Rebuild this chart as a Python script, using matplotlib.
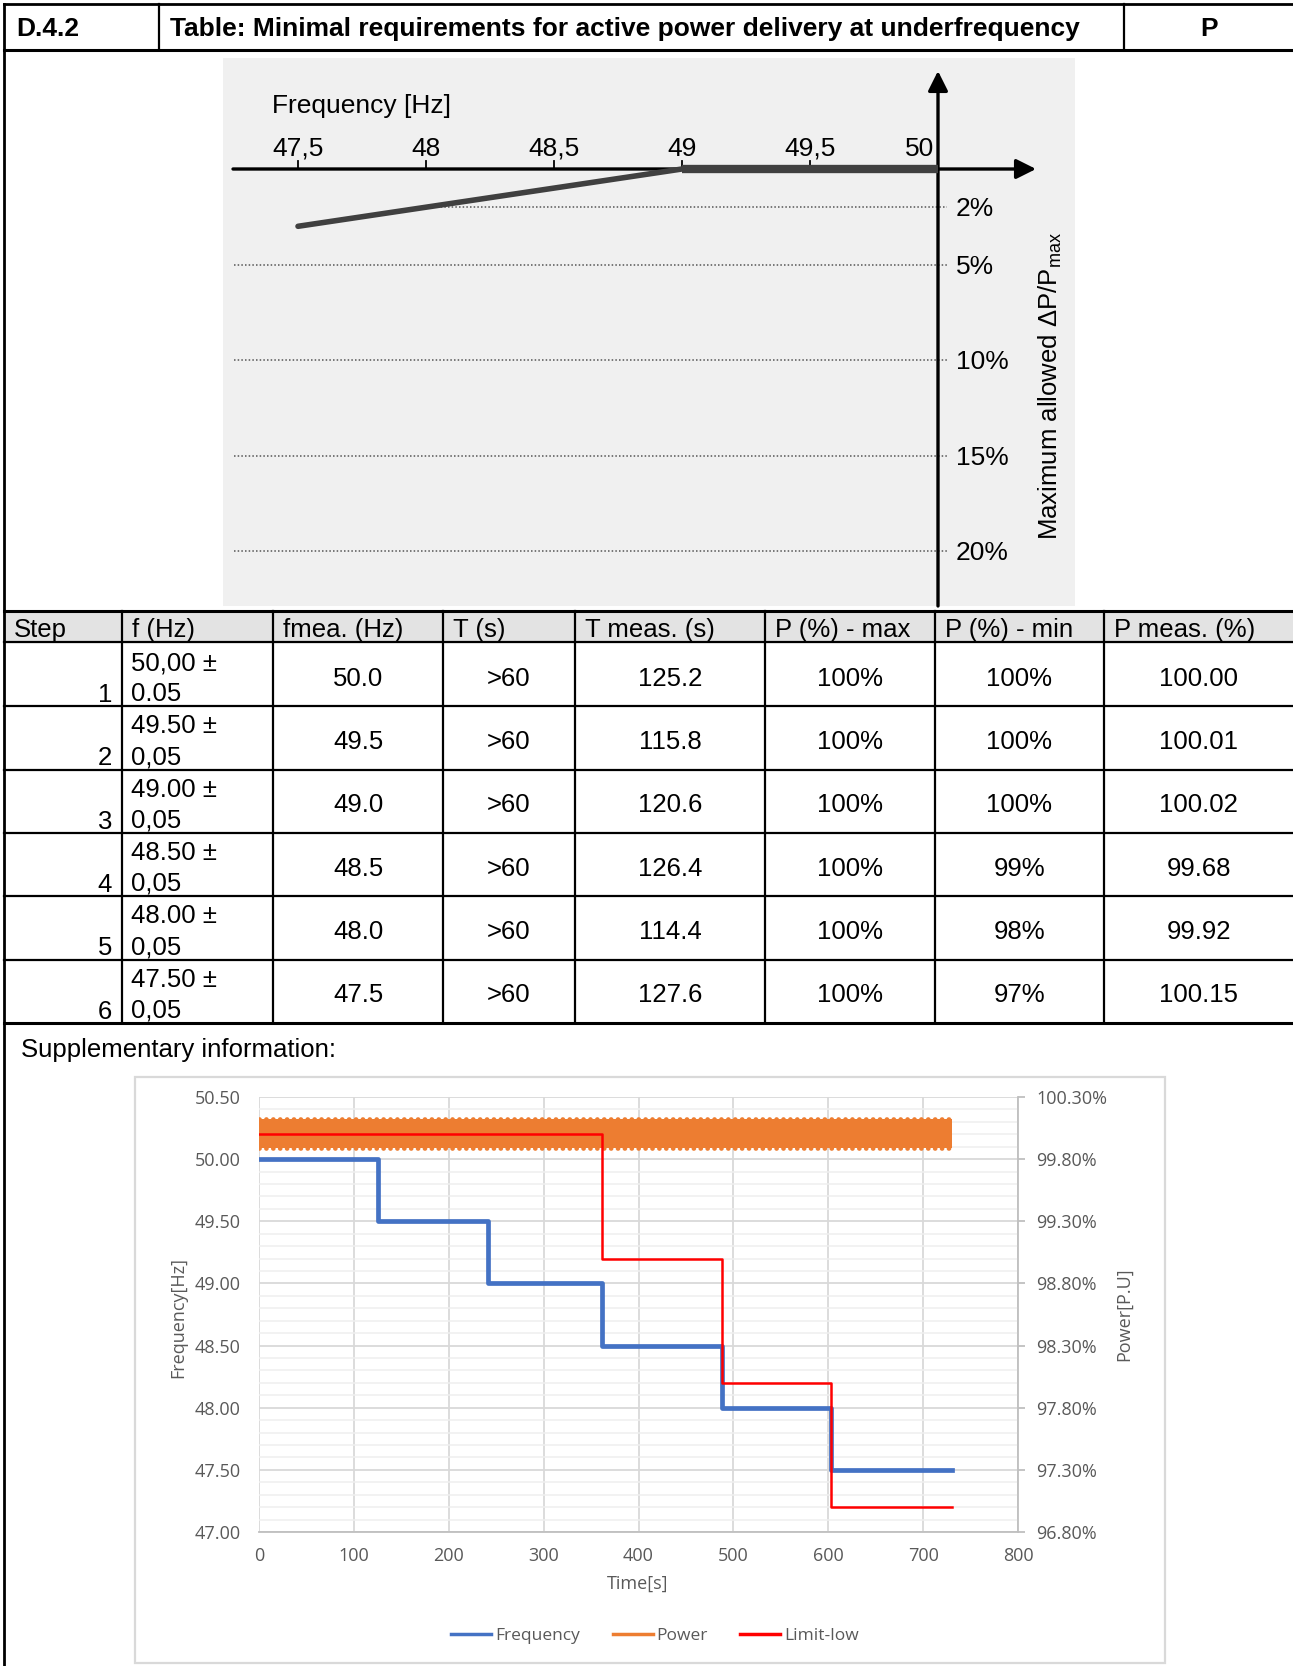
import numpy as np
import matplotlib
matplotlib.use("Agg")
import matplotlib.pyplot as plt
from matplotlib.patches import Rectangle
from matplotlib.ticker import MultipleLocator, FuncFormatter, FixedLocator
from matplotlib.lines import Line2D

W, H = 1293, 1666

# ---------------- table data ----------------
col_heads = ["Step", "f (Hz)", "fmea. (Hz)", "T (s)", "T meas. (s)",
             "P (%) - max", "P (%) - min", "P meas. (%)"]
steps = ["1", "2", "3", "4", "5", "6"]
f_set_top = ["50,00 ±", "49.50 ±", "49.00 ±", "48.50 ±", "48.00 ±", "47.50 ±"]
f_set_bot = ["0.05", "0,05", "0,05", "0,05", "0,05", "0,05"]
f_meas = ["50.0", "49.5", "49.0", "48.5", "48.0", "47.5"]
t_set = [">60", ">60", ">60", ">60", ">60", ">60"]
t_meas = ["125.2", "115.8", "120.6", "126.4", "114.4", "127.6"]
p_max = ["100%", "100%", "100%", "100%", "100%", "100%"]
p_min = ["100%", "100%", "100%", "99%", "98%", "97%"]
p_meas = ["100.00", "100.01", "100.02", "99.68", "99.92", "100.15"]

# ---------------- requirement diagram data ----------------
curve_f = [47.5, 49.0]
curve_dp = [3.0, 0.0]
flat_f = [49.0, 50.0]
flat_dp = [0.0, 0.0]
freq_ticks = [47.5, 48.0, 48.5, 49.0, 49.5, 50.0]
freq_tick_labels = ["47,5", "48", "48,5", "49", "49,5", "50"]
dp_levels = [2, 5, 10, 15, 20]
dp_labels = ["2%", "5%", "10%", "15%", "20%"]
dp_line_start = [48.0, 47.25, 47.25, 47.25, 47.25]

# ---------------- measurement chart data ----------------
step_duration = [125.2, 115.8, 120.6, 126.4, 114.4, 127.6]
freq_levels = [50.00, 49.50, 49.00, 48.50, 48.00, 47.50]
limit_levels = [100.0, 100.0, 100.0, 99.0, 98.0, 97.0]
power_time = [0, 730]
power_upper = [100.12, 100.12]
power_lower = [99.89, 99.89]

fig = plt.figure(figsize=(W / 100, H / 100), dpi=100, facecolor="white")

def box(x0, y0, x1, y1):
    return [x0 / W, 1 - y1 / H, (x1 - x0) / W, (y1 - y0) / H]

# page layer in pixel units
page = fig.add_axes([0, 0, 1, 1])
page.set_xlim(0, W)
page.set_ylim(H, 0)
page.axis("off")

TF = "Liberation Sans"
fs = 18.5

# header row
page.add_patch(Rectangle((4, 611), W - 4, 31, color="#e3e3e3", zorder=0))
page.plot([4, 4], [4, H], color="black", lw=2)
page.plot([4, W], [4, 4], color="black", lw=2)
page.plot([4, W], [50, 50], color="black", lw=2.2)
for x in [159, 1124]:
    page.plot([x, x], [4, 50], color="black", lw=1.6)
page.text(16, 29, "D.4.2", family=TF, fontsize=19, weight="bold", va="center")
page.text(170, 29, "Table: Minimal requirements for active power delivery at underfrequency",
          family=TF, fontsize=19, weight="bold", va="center")
page.text(1209, 29, "P", family=TF, fontsize=19, weight="bold", va="center", ha="center")

# table
col_x = [4, 122, 273, 443, 575, 765, 935, 1104, W]
row_top = 643
row_h = 63.3
page.plot([4, W], [611, 611], color="black", lw=2.2)
page.plot([4, W], [642, 642], color="black", lw=1.6)
for i in range(1, 7):
    y = row_top + row_h * i
    page.plot([4, W], [y, y], color="black", lw=2.2 if i == 6 else 1.6)
for x in col_x[1:-1]:
    page.plot([x, x], [611, row_top + row_h * 6], color="black", lw=1.6)
for j, head in enumerate(col_heads):
    page.text(col_x[j] + 10, 630, head, family=TF, fontsize=fs, va="center")

for i in range(6):
    top = row_top + row_h * i
    yc = top + row_h / 2 + 4
    page.text(112, top + 52, steps[i], family=TF, fontsize=fs, va="center", ha="right")
    page.text(131, top + 20, f_set_top[i], family=TF, fontsize=fs, va="center")
    page.text(131, top + 51, f_set_bot[i], family=TF, fontsize=fs, va="center")
    vals = [f_meas[i], t_set[i], t_meas[i], p_max[i], p_min[i], p_meas[i]]
    for k, v in enumerate(vals):
        cx = (col_x[k + 2] + col_x[k + 3]) / 2
        page.text(cx, yc, v, family=TF, fontsize=fs, va="center", ha="center")

page.text(21, 1050, "Supplementary information:", family=TF, fontsize=fs, va="center")

# ---------------- requirement diagram ----------------
px_hz = 256.0
px_pct = 19.1
def f_of(px):
    return 50 - (938 - px) / px_hz
def p_of(py):
    return (py - 169) / px_pct

axd = fig.add_axes(box(223, 58, 1075, 606))
axd.set_xlim(f_of(223), f_of(1075))
axd.set_ylim(p_of(606), p_of(58))
axd.axis("off")
axd.add_patch(Rectangle((0, 0), 1, 1, transform=axd.transAxes, color="#f0f0f0", zorder=0))

for lvl, start in zip(dp_levels, dp_line_start):
    axd.plot([start, f_of(947)], [lvl, lvl], color="#555555", lw=1.1,
             linestyle=(0, (1, 1.4)), zorder=1)
for lvl, lab in zip(dp_levels, dp_labels):
    axd.text(f_of(956), lvl + 0.12, lab, family=TF, fontsize=19, va="center", ha="left")

axd.annotate("", xy=(f_of(1036), 0), xytext=(f_of(233), 0),
             arrowprops=dict(arrowstyle="-|>", lw=2.4, color="black", mutation_scale=30,
                             shrinkA=0, shrinkB=0), zorder=3)
axd.annotate("", xy=(50, p_of(71)), xytext=(50, p_of(606)),
             arrowprops=dict(arrowstyle="-|>", lw=2.4, color="black", mutation_scale=30,
                             shrinkA=0, shrinkB=0), zorder=3)
for ft in freq_ticks[:-1]:
    axd.plot([ft, ft], [0, -0.4], color="black", lw=1.3, zorder=3)
for ft, lab in zip(freq_ticks, freq_tick_labels):
    if ft == 50.0:
        axd.text(49.985, -1.05, lab, family=TF, fontsize=19, va="center", ha="right")
    else:
        axd.text(ft, -1.05, lab, family=TF, fontsize=19, va="center", ha="center")
axd.text(f_of(272), -3.3, "Frequency [Hz]", family=TF, fontsize=19, va="center", ha="left")

axd.plot(curve_f, curve_dp, color="#404040", lw=4, solid_capstyle="round", zorder=4)
axd.plot(flat_f, flat_dp, color="#404040", lw=6, solid_capstyle="butt", zorder=4)
axd.text(f_of(1050), p_of(386), "Maximum allowed ΔP/P$_{\\mathregular{max}}$", family=TF,
         fontsize=18.5, rotation=90, va="center", ha="center")

# ---------------- measurement chart ----------------
page.add_patch(Rectangle((135, 1077), 1030, 586, facecolor="white",
                         edgecolor="#d9d9d9", lw=1.6, zorder=1))

CF = "Open Sans"
gray = "#595959"
ax = fig.add_axes(box(259, 1097, 1018, 1532))
ax.set_xlim(0, 800)
ax.set_ylim(47.0, 50.5)
ax.yaxis.set_major_locator(MultipleLocator(0.5))
ax.yaxis.set_minor_locator(MultipleLocator(0.1))
ax.xaxis.set_major_locator(MultipleLocator(100))
ax.grid(which="major", color="#d9d9d9", lw=1.3)
ax.grid(which="minor", axis="y", color="#efefef", lw=1.1)
ax.set_axisbelow(True)
for s in ["left", "top", "right"]:
    ax.spines[s].set_visible(False)
ax.spines["bottom"].set_color("#bfbfbf")
ax.spines["bottom"].set_linewidth(1.3)
ax.tick_params(axis="both", which="both", length=0, colors=gray, labelsize=13)
ax.tick_params(axis="y", pad=13)
ax.tick_params(axis="x", pad=11)
ax.yaxis.set_major_formatter(FuncFormatter(lambda v, p: f"{v:.2f}"))
for lab in ax.get_xticklabels() + ax.get_yticklabels():
    lab.set_family(CF)

edges = np.concatenate([[0], np.cumsum(step_duration)])
ax.step(edges, freq_levels + [freq_levels[-1]], where="post", color="#4472C4", lw=3.4, zorder=3)

ax2 = ax.twinx()
ax2.set_ylim(96.8, 100.3)
ax2.yaxis.set_major_locator(FixedLocator([96.8, 97.3, 97.8, 98.3, 98.8, 99.3, 99.8, 100.3]))
ax2.yaxis.set_major_formatter(FuncFormatter(lambda v, p: f"{v:.2f}%"))
for s in ["left", "top", "bottom"]:
    ax2.spines[s].set_visible(False)
ax2.spines["right"].set_color("#bfbfbf")
ax2.spines["right"].set_linewidth(1.3)
ax2.tick_params(axis="y", length=5, color="#bfbfbf", width=1.3, colors=gray,
                labelsize=13, pad=8)
ax2.tick_params(axis="y", color="#bfbfbf")
for lab in ax2.get_yticklabels():
    lab.set_family(CF)
    lab.set_color(gray)

ax2.fill_between(power_time, power_lower, power_upper, color="#ED7D31", lw=0, zorder=2)
for edge in [power_upper, power_lower]:
    ax2.plot(power_time, edge, color="#ED7D31", lw=3.4, linestyle=(0, (0.01, 1.45)),
             dash_capstyle="round", zorder=2)
ax2.step(edges, limit_levels + [limit_levels[-1]], where="post", color="#FF0000", lw=1.8, zorder=4)

page.text(178, 1317, "Frequency[Hz]", family=CF, fontsize=13, color=gray,
          rotation=90, va="center", ha="center", zorder=5)
page.text(1124, 1314, "Power[P.U]", family=CF, fontsize=13, color=gray,
          rotation=90, va="center", ha="center", zorder=5)
page.text(638, 1584, "Time[s]", family=CF, fontsize=13, color=gray,
          va="center", ha="center", zorder=5)

handles = [Line2D([], [], color="#4472C4", lw=2.5),
           Line2D([], [], color="#ED7D31", lw=2.5),
           Line2D([], [], color="#FF0000", lw=2.5)]
leg = fig.legend(handles, ["Frequency", "Power", "Limit-low"], loc="center",
                 bbox_to_anchor=(655 / W, 1 - 1636 / H), ncol=3, frameon=False,
                 handlelength=2.3, handletextpad=0.2, columnspacing=1.9,
                 prop={"family": CF, "size": 12.5})
for t in leg.get_texts():
    t.set_color(gray)

fig.savefig("out.png", dpi=100, facecolor="white")
